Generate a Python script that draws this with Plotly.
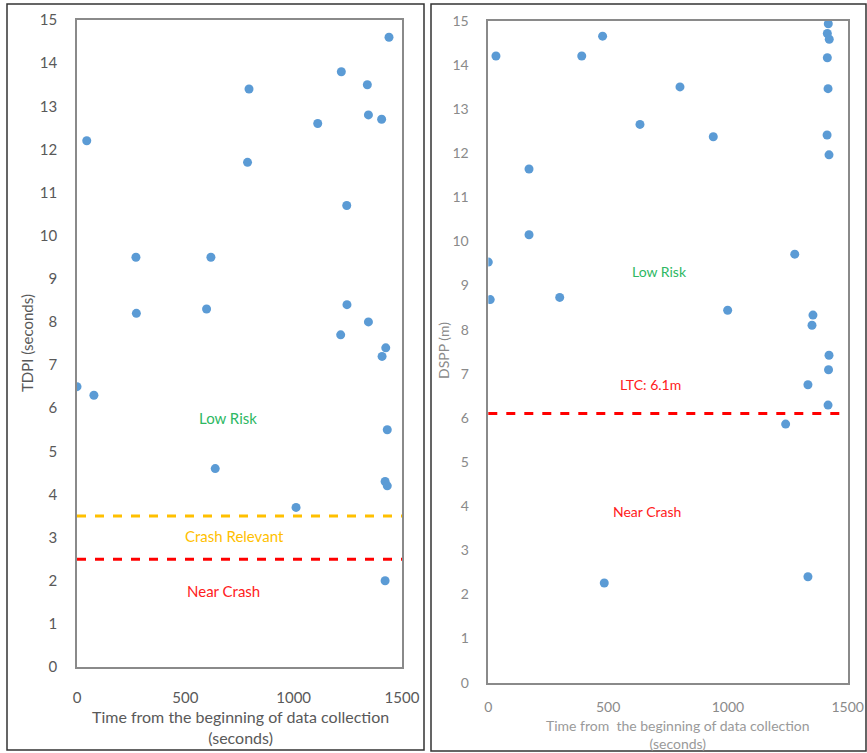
import plotly.graph_objects as go

W, H = 867, 753

# ---- Data: left panel (TDPI) ----
tdpi_time = [45, 794, 787, 1111, 1220, 1340, 1345, 1406, 1440, 1245,
             272, 618, 274, 598, 1246, 1345, 1217, 1425, 1408, 0, 78,
             1432, 638, 1422, 1432, 1011, 1422]
tdpi_val = [12.2, 13.4, 11.7, 12.6, 13.8, 13.5, 12.8, 12.7, 14.6, 10.7,
            9.5, 9.5, 8.2, 8.3, 8.4, 8.0, 7.7, 7.4, 7.2, 6.5, 6.3,
            5.5, 4.6, 4.3, 4.2, 3.7, 2.0]
tdpi_thresholds = [3.5, 2.5]   # crash relevant, near crash

# ---- Data: right panel (DSPP) ----
dspp_time = [32, 390, 477, 800, 633, 939, 170, 170, 1279, 1419, 1415, 1423,
             1415, 1418, 1414, 1422, 0, 8, 298, 999, 1355, 1351, 1422, 1420,
             1334, 1418, 1241, 484, 1334]
dspp_val = [14.2, 14.2, 14.65, 13.5, 12.65, 12.37, 11.64, 10.15, 9.71, 14.93,
            14.71, 14.58, 14.16, 13.46, 12.41, 11.96, 9.53, 8.68, 8.73, 8.44,
            8.33, 8.10, 7.42, 7.09, 6.75, 6.29, 5.86, 2.26, 2.40]
dspp_threshold = 6.1

x_ticks = [0, 500, 1000, 1500]
y_ticks = list(range(0, 16))

BLUE = "#5B9BD5"
GRAY = "#595959"
FONT = "Lato, Liberation Sans, sans-serif"

fig = go.Figure()
fig.add_trace(go.Scatter(x=tdpi_time, y=tdpi_val, mode="markers",
                         marker=dict(color=BLUE, size=9), xaxis="x", yaxis="y",
                         showlegend=False))
fig.add_trace(go.Scatter(x=dspp_time, y=dspp_val, mode="markers",
                         marker=dict(color=BLUE, size=9), xaxis="x2", yaxis="y2",
                         showlegend=False))

def px_x(a, b):
    return [a / W, b / W]

def px_y(top, bottom):
    return [1 - bottom / H, 1 - top / H]

axis_common = dict(showgrid=False, zeroline=False, showline=True, mirror=True,
                   linewidth=1.5, ticks="", fixedrange=True, automargin=False)

fig.update_layout(
    width=W, height=H,
    margin=dict(l=0, r=0, t=0, b=0, pad=0, autoexpand=False),
    paper_bgcolor="white", plot_bgcolor="white",
    font=dict(family=FONT, color=GRAY),
    xaxis=dict(domain=px_x(77, 402), range=[0, 1500], tickvals=x_ticks,
               linecolor="#8a8a8a", ticklabelstandoff=16,
               tickfont=dict(size=15, color=GRAY), anchor="y", **axis_common),
    yaxis=dict(domain=px_y(20, 667), range=[0, 15], tickvals=y_ticks,
               linecolor="#8a8a8a", ticklabelstandoff=15,
               tickfont=dict(size=15, color=GRAY), anchor="x", **axis_common),
    xaxis2=dict(domain=px_x(488.3, 847.7), range=[0, 1500], tickvals=x_ticks,
                linecolor="#8a8a8a", ticklabelstandoff=11,
                tickfont=dict(size=14, color="#8a8a8a"), anchor="y2", **axis_common),
    yaxis2=dict(domain=px_y(20.7, 682.7), range=[0, 15], tickvals=y_ticks,
                linecolor="#8a8a8a", ticklabelstandoff=15,
                tickfont=dict(size=14, color="#8a8a8a"), anchor="x2", **axis_common),
)

shapes = []
# outer panel borders
shapes.append(dict(type="rect", xref="paper", yref="paper",
                   x0=7 / W, x1=424 / W, y0=1 - 750 / H, y1=1 - 4 / H,
                   line=dict(color="#333333", width=1.5)))
shapes.append(dict(type="rect", xref="paper", yref="paper",
                   x0=431 / W, x1=866 / W, y0=1 - 751 / H, y1=1 - 4 / H,
                   line=dict(color="#333333", width=1.5)))
# threshold lines
for val, col in zip(tdpi_thresholds, ["#FFC000", "#FF0000"]):
    shapes.append(dict(type="line", xref="x domain", yref="y", x0=0, x1=1,
                       y0=val, y1=val, line=dict(color=col, width=3, dash="dash")))
shapes.append(dict(type="line", xref="x2 domain", yref="y2", x0=0, x1=1,
                   y0=dspp_threshold, y1=dspp_threshold,
                   line=dict(color="#FF0000", width=3, dash="dash")))
fig.update_layout(shapes=shapes)

GREEN = "#2EB863"
ann = [
    dict(x=698, y=5.77, xref="x", yref="y", text="Low Risk",
         font=dict(size=15, color=GREEN)),
    dict(x=729, y=3.04, xref="x", yref="y", text="Crash Relevant",
         font=dict(size=15, color="#FFC000")),
    dict(x=675, y=1.76, xref="x", yref="y", text="Near Crash",
         font=dict(size=15, color="#FF2020")),
    dict(x=714, y=9.31, xref="x2", yref="y2", text="Low Risk",
         font=dict(size=14, color=GREEN)),
    dict(x=679, y=6.75, xref="x2", yref="y2", text="LTC: 6.1m",
         font=dict(size=14, color="#FF2020")),
    dict(x=661, y=3.89, xref="x2", yref="y2", text="Near Crash",
         font=dict(size=14, color="#FF2020")),
    # axis titles
    dict(x=27 / W, y=1 - 343 / H, xref="paper", yref="paper", text="TDPI (seconds)",
         textangle=-90, font=dict(size=15, color=GRAY)),
    dict(x=240 / W, y=1 - 727 / H, xref="paper", yref="paper",
         text="Time from the beginning of data collection<br>(seconds)",
         font=dict(size=16, color=GRAY)),
    dict(x=443 / W, y=1 - 351 / H, xref="paper", yref="paper", text="DSPP (m)",
         textangle=-90, font=dict(size=14, color="#8a8a8a")),
    dict(x=678 / W, y=1 - 734 / H, xref="paper", yref="paper",
         text="Time from &nbsp;the beginning of data collection<br>(seconds)",
         font=dict(size=14, color="#9a9a9a")),
]
for a in ann:
    a.update(showarrow=False, xanchor="center", yanchor="middle")
fig.update_layout(annotations=ann)

fig.write_html("out.html")
